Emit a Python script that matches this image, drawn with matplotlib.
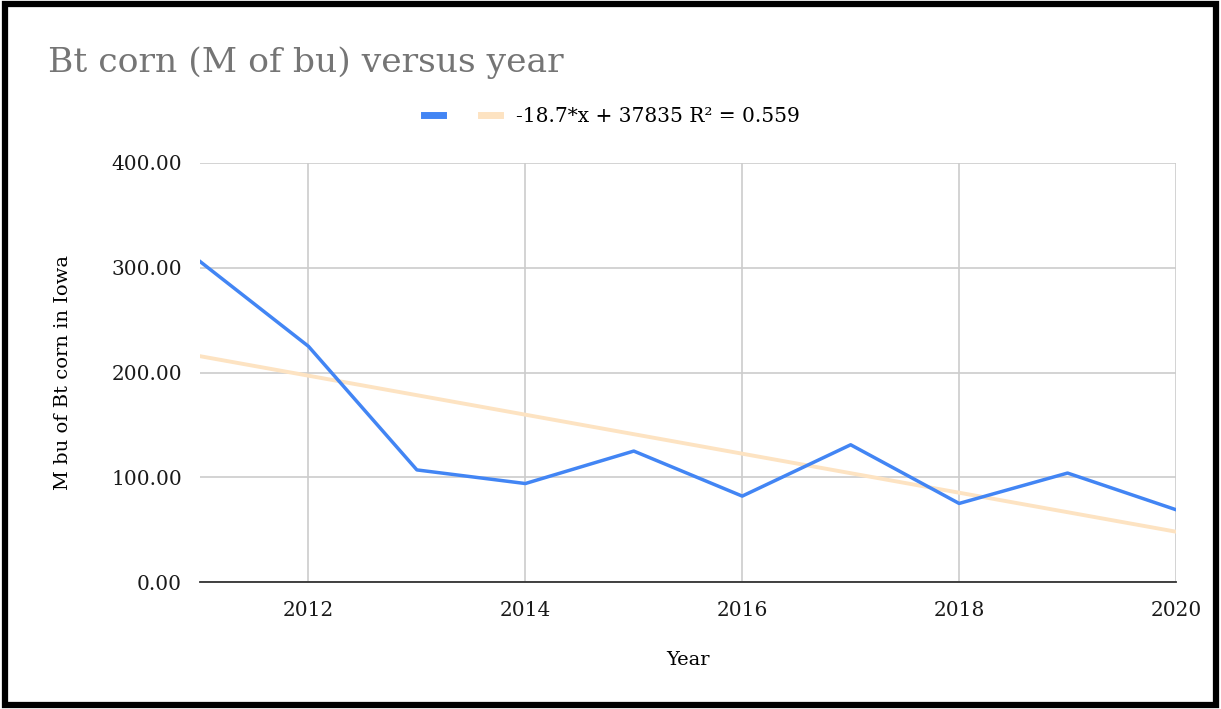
import matplotlib.pyplot as plt
import matplotlib.patches as mpatches
from matplotlib.lines import Line2D
import numpy as np

years = [2011, 2012, 2013, 2014, 2015, 2016, 2017, 2018, 2019, 2020]
bt_corn = [306, 225, 107, 94, 125, 82, 131, 75, 104, 69]
yticks = [0, 100, 200, 300, 400]
xticks = [2012, 2014, 2016, 2018, 2020]
trend_label = "-18.7*x + 37835 R\u00b2 = 0.559"

blue = '#4285f4'
trend_col = '#fde3c2'
serif = 'DejaVu Serif'

fig = plt.figure(figsize=(12.21, 7.09), dpi=100)
ax = fig.add_axes([200/1221, 1 - 582/709, 976/1221, 419/709])

# linear trend from the data
coef = np.polyfit(years, bt_corn, 1)
tx = np.array([years[0], years[-1]])
ax.plot(tx, np.polyval(coef, tx), color=trend_col, lw=2.8, zorder=2)
ax.plot(years, bt_corn, color=blue, lw=2.5, zorder=3)

ax.set_xlim(2011, 2020)
ax.set_ylim(0, 400)
ax.set_xticks(xticks)
ax.set_yticks(yticks)
ax.set_yticklabels([f"{v:.2f}" for v in yticks])
ax.grid(True, color='#cccccc', lw=1.2)
ax.set_axisbelow(True)
for s in ['left', 'right', 'top']:
    ax.spines[s].set_visible(False)
ax.spines['bottom'].set_color('#333333')
ax.spines['bottom'].set_linewidth(1.3)
ax.tick_params(length=0, pad=13, labelsize=14.5, labelcolor='#1a1a1a')
for lab in ax.get_xticklabels() + ax.get_yticklabels():
    lab.set_family(serif)
ax.tick_params(axis='x', pad=14)

ax.set_xlabel("Year", family=serif, fontsize=14, labelpad=22)
ax.set_ylabel("M bu of Bt corn in Iowa", family=serif, fontsize=14, labelpad=28)

fig.text(48/1221, 1 - 63/709, "Bt corn (M of bu) versus year", family=serif,
         fontsize=24.8, color='#757575', va='center', ha='left')

handles = [Line2D([], [], color=blue, lw=5), Line2D([], [], color=trend_col, lw=5)]
fig.legend(handles, ["", trend_label], loc='center', bbox_to_anchor=(612/1221, 1 - 117/709),
           ncol=2, frameon=False, prop={'family': serif, 'size': 14.5},
           handlelength=0.95, columnspacing=1.1, handletextpad=0.8)

fig.patches.append(mpatches.Rectangle((0.004, 0.006), 0.992, 0.988, transform=fig.transFigure,
                                      fill=False, edgecolor='black', lw=4.5))

fig.savefig('out.png', dpi=100)
